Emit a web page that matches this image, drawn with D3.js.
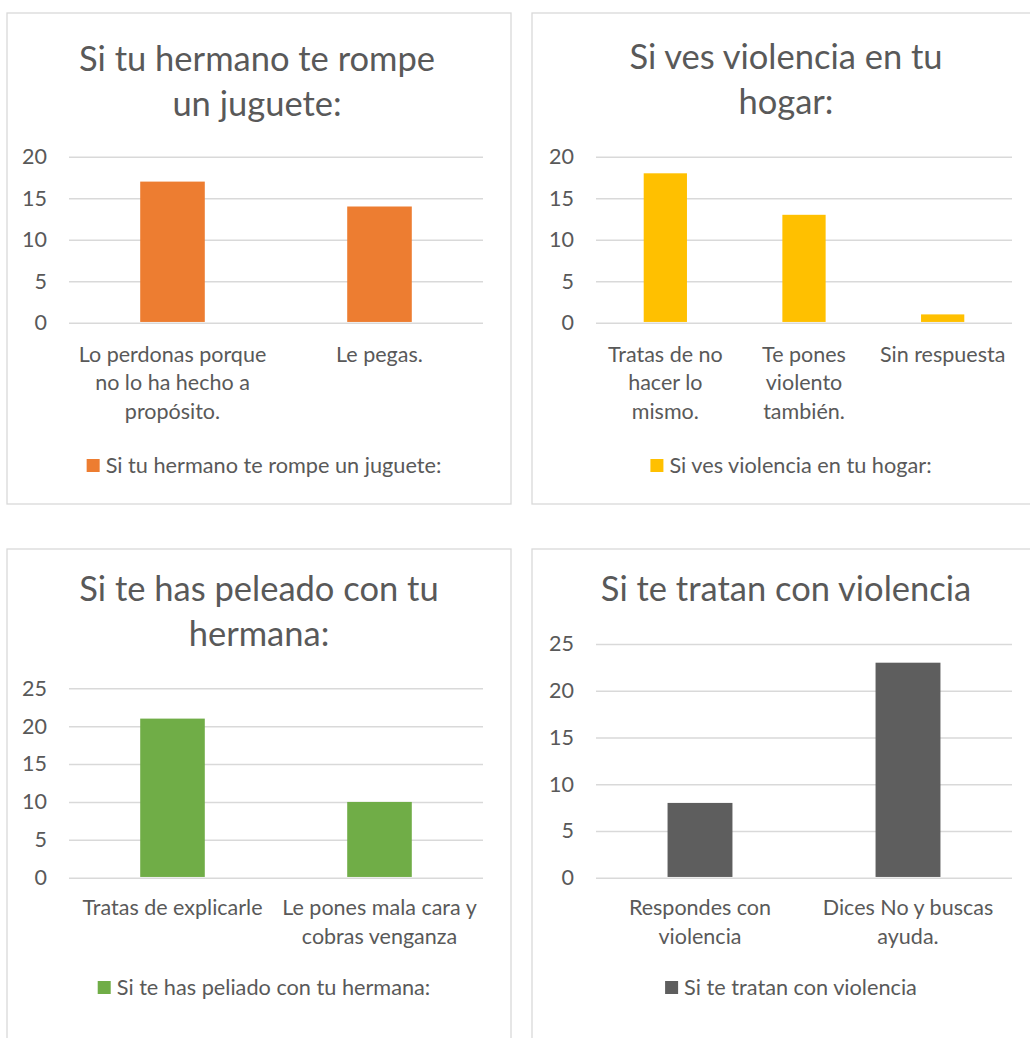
<!DOCTYPE html>
<html>
<head>
<meta charset="utf-8">
<script src="https://cdn.jsdelivr.net/npm/d3@7"></script>
<style>
body { margin: 0; background: #fff; }
text { font-family: Lato, "Open Sans", sans-serif; fill: #595959; }
</style>
</head>
<body>
<div id="chart"></div>
<script>
// chart titles, one array of lines per chart
var title1 = ["Si tu hermano te rompe", "un juguete:"];
var title2 = ["Si ves violencia en tu", "hogar:"];
var title3 = ["Si te has peleado con tu", "hermana:"];
var title4 = ["Si te tratan con violencia"];

// categories and values
var cats1 = ["Lo perdonas porque no lo ha hecho a propósito.", "Le pegas."];
var vals1 = [17, 14];
var cats2 = ["Tratas de no hacer lo mismo.", "Te pones violento también.", "Sin respuesta"];
var vals2 = [18, 13, 1];
var cats3 = ["Tratas de explicarle", "Le pones mala cara y cobras venganza"];
var vals3 = [21, 10];
var cats4 = ["Respondes con violencia", "Dices No y buscas ayuda."];
var vals4 = [8, 23];

// legend labels and axis maximums
var legends = ["Si tu hermano te rompe un juguete:", "Si ves violencia en tu hogar:",
               "Si te has peliado con tu hermana:", "Si te tratan con violencia"];
var yMax = [20, 20, 25, 25];
var colors = ["#ED7D31", "#FFC000", "#70AD47", "#5E5E5E"];

var titles = [title1, title2, title3, title4];
var cats = [cats1, cats2, cats3, cats4];
var vals = [vals1, vals2, vals3, vals4];

// panel layout
var layout = [
  {x: 7,   y: 13,  w: 504, h: 491, titleX: 257, titleY: 71, left: 69,  right: 483,  top: 156.7, bottom: 322.7, catY: 361.7, legendX: 264, legendY: 473},
  {x: 532, y: 13,  w: 510, h: 491, titleX: 786, titleY: 69, left: 596, right: 1012, top: 156.7, bottom: 322.7, catY: 361.7, legendX: 791, legendY: 473},
  {x: 7,   y: 549, w: 504, h: 520, titleX: 259, titleY: 601, left: 69,  right: 483,  top: 688.3, bottom: 877.7, catY: 915,   legendX: 264, legendY: 995},
  {x: 532, y: 549, w: 510, h: 520, titleX: 786, titleY: 601, left: 596, right: 1012, top: 644,   bottom: 877.7, catY: 915,   legendX: 791, legendY: 995}
];

var svg = d3.select("#chart").append("svg")
  .attr("width", 1030)
  .attr("height", 1038);

function wrap(text, width) {
  text.each(function() {
    var text = d3.select(this),
        words = text.text().split(/\s+/),
        x = text.attr("x"),
        y = text.attr("y"),
        line = [],
        lineNo = 0,
        tspan = text.text(null).append("tspan").attr("x", x).attr("y", y);
    words.forEach(function(word) {
      line.push(word);
      tspan.text(line.join(" "));
      if (tspan.node().getComputedTextLength() > width && line.length > 1) {
        line.pop();
        tspan.text(line.join(" "));
        line = [word];
        lineNo++;
        tspan = text.append("tspan").attr("x", x).attr("y", +y + lineNo * 28.5).text(word);
      }
    });
  });
}

function drawChart(i) {
  var p = layout[i];
  var g = svg.append("g");

  // frame
  g.append("rect")
    .attr("x", p.x).attr("y", p.y)
    .attr("width", p.w).attr("height", p.h)
    .attr("fill", "none")
    .attr("stroke", "#D9D9D9")
    .attr("stroke-width", 1.3);

  // title
  var t = g.append("text")
    .attr("text-anchor", "middle")
    .style("font-size", "34.5px");
  titles[i].forEach(function(line, k) {
    t.append("tspan")
      .attr("x", p.titleX)
      .attr("y", p.titleY + k * 45)
      .text(line);
  });

  var data = cats[i].map(function(c, k) { return {cat: c, val: vals[i][k]}; });

  var x = d3.scaleBand().domain(cats[i]).range([p.left, p.right]);
  var y = d3.scaleLinear().domain([0, yMax[i]]).range([p.bottom, p.top]);

  // gridlines + y labels
  var ax = g.append("g")
    .attr("transform", "translate(" + p.left + ",0)")
    .call(d3.axisLeft(y).ticks(5).tickSize(-(p.right - p.left)).tickPadding(22));
  ax.select(".domain").remove();
  ax.selectAll("line").attr("stroke", "#D9D9D9").attr("stroke-width", 1.5);
  ax.selectAll("text")
    .attr("fill", "#595959")
    .style("font-family", "Lato, 'Open Sans', sans-serif")
    .style("font-size", "21.5px");

  // bars
  var bw = x.bandwidth() * 0.312;
  g.selectAll(".bar")
    .data(data)
    .join("rect")
    .attr("class", "bar")
    .attr("x", function(d) { return x(d.cat) + (x.bandwidth() - bw) / 2; })
    .attr("width", bw)
    .attr("y", function(d) { return y(d.val); })
    .attr("height", function(d) { return y(0) - y(d.val) - 0.75; })
    .attr("fill", colors[i]);

  // category labels
  g.selectAll(".cat")
    .data(data)
    .join("text")
    .attr("class", "cat")
    .attr("text-anchor", "middle")
    .style("font-size", "21.5px")
    .attr("x", function(d) { return x(d.cat) + x.bandwidth() / 2; })
    .attr("y", p.catY)
    .text(function(d) { return d.cat; })
    .call(wrap, x.bandwidth());

  // legend
  var lg = g.append("g");
  var lt = lg.append("text")
    .attr("x", 19)
    .attr("y", 0)
    .style("font-size", "21.7px")
    .text(legends[i]);
  lg.append("rect")
    .attr("x", 0).attr("y", -14)
    .attr("width", 13).attr("height", 13)
    .attr("fill", colors[i]);
  var lw = 19 + lt.node().getComputedTextLength();
  lg.attr("transform", "translate(" + (p.legendX - lw / 2) + "," + p.legendY + ")");
}

for (var i = 0; i < 4; i++) drawChart(i);
</script>
</body>
</html>
